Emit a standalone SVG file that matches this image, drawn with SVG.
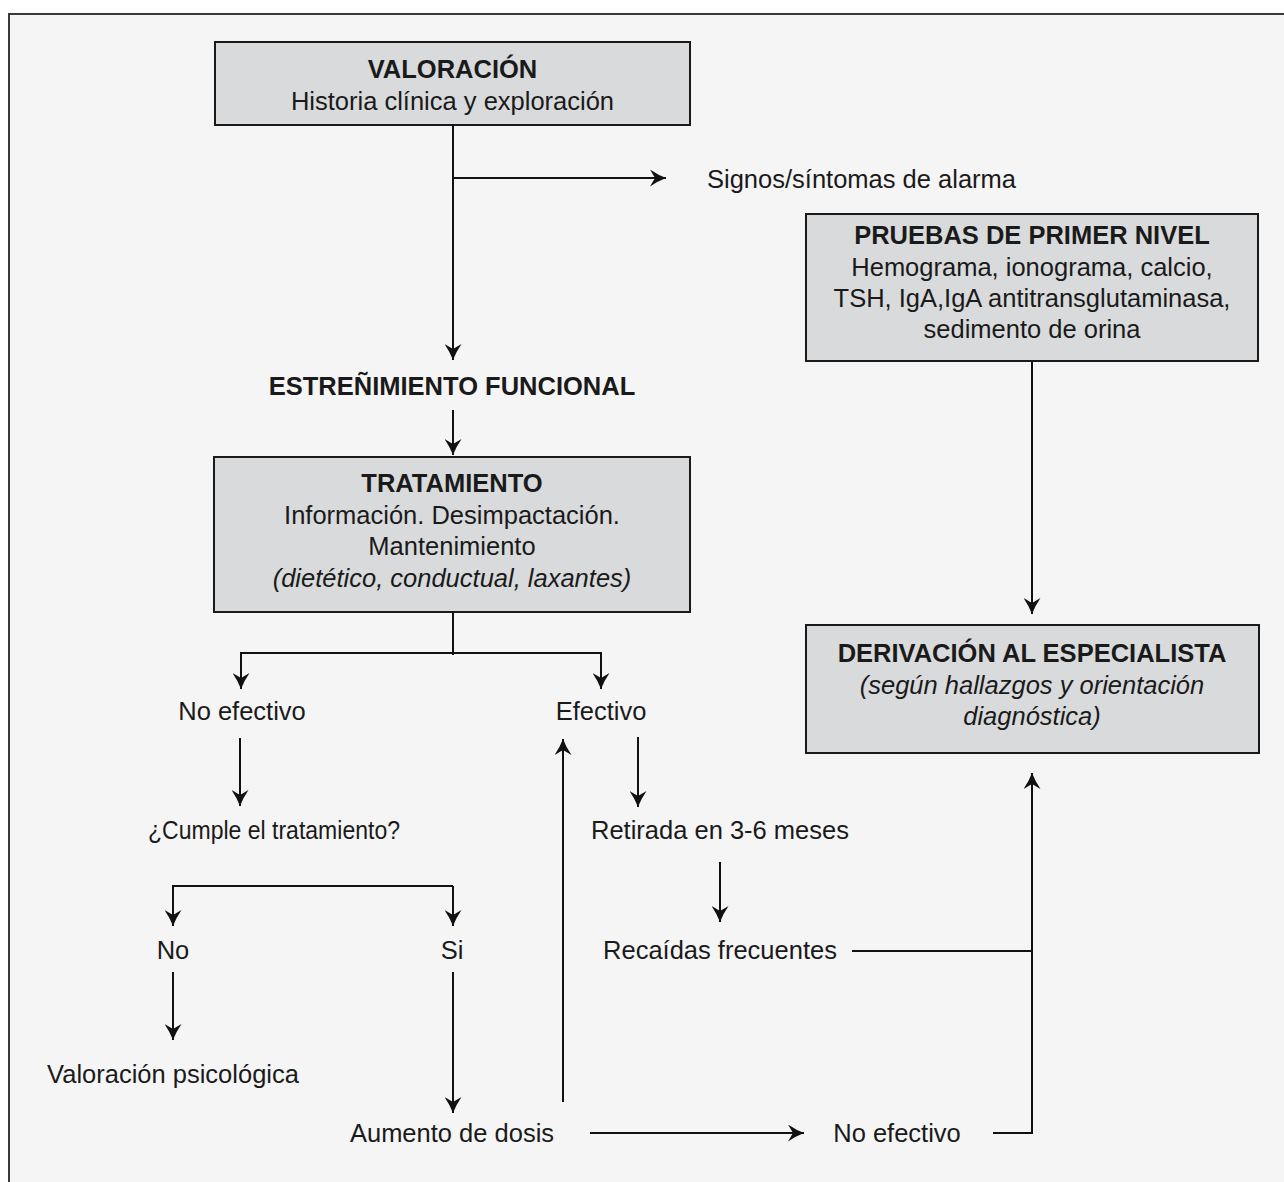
<svg xmlns="http://www.w3.org/2000/svg" width="1284" height="1182" viewBox="0 0 1284 1182">
<defs>
<marker id="ah" viewBox="0 0 16 17" refX="16" refY="8.5" markerWidth="16" markerHeight="17" markerUnits="userSpaceOnUse" orient="auto">
<path d="M0,0 Q8,5.5 16,8.5 Q8,11.5 0,17 L5,8.5 Z" fill="#111"/>
</marker>
<style>
text{font-family:"Liberation Sans",Arial,sans-serif;font-size:25.5px;fill:#1a1a1a}
.c{text-anchor:middle}
.b{font-weight:bold}
.i{font-style:italic}
.box{fill:#d9dadc;stroke:#1a1a1a;stroke-width:2}
.ln{fill:none;stroke:#111;stroke-width:2}
.ar{fill:none;stroke:#111;stroke-width:2;marker-end:url(#ah)}
</style>
</defs>
<rect x="0" y="0" width="1284" height="1182" fill="#ffffff"/>
<rect x="9" y="14" width="1300" height="1200" fill="#f5f5f5" stroke="#3a3a3a" stroke-width="2"/>

<g id="valoracion">
<rect class="box" x="215" y="42" width="475" height="83"/>
<text class="c b" x="452.5" y="78">VALORACIÓN</text>
<text class="c" x="452.5" y="110">Historia clínica y exploración</text>
</g>
<g id="signos"><text x="707" y="188">Signos/síntomas de alarma</text></g>
<g id="pruebas">
<rect class="box" x="806" y="214" width="452" height="147"/>
<text class="c b" x="1032" y="244">PRUEBAS DE PRIMER NIVEL</text>
<text class="c" x="1032" y="276">Hemograma, ionograma, calcio,</text>
<text class="c" x="1032" y="307">TSH, IgA,IgA antitransglutaminasa,</text>
<text class="c" x="1032" y="338">sedimento de orina</text>
</g>
<g id="estrenimiento"><text class="c b" x="452" y="395">ESTREÑIMIENTO FUNCIONAL</text></g>
<g id="tratamiento">
<rect class="box" x="214" y="457" width="476" height="155"/>
<text class="c b" x="452" y="492">TRATAMIENTO</text>
<text class="c" x="452" y="524">Información. Desimpactación.</text>
<text class="c" x="452" y="555">Mantenimiento</text>
<text class="c i" x="452" y="587">(dietético, conductual, laxantes)</text>
</g>
<g id="derivacion">
<rect class="box" x="806" y="625" width="453" height="128"/>
<text class="c b" x="1032" y="662">DERIVACIÓN AL ESPECIALISTA</text>
<text class="c i" x="1032" y="694">(según hallazgos y orientación</text>
<text class="c i" x="1032" y="725">diagnóstica)</text>
</g>
<g id="no-efectivo-1"><text class="c" x="242" y="720">No efectivo</text></g>
<g id="efectivo"><text class="c" x="601" y="720">Efectivo</text></g>
<g id="cumple"><text x="148" y="839" textLength="252" lengthAdjust="spacingAndGlyphs">¿Cumple el tratamiento?</text></g>
<g id="retirada"><text class="c" x="720" y="839">Retirada en 3-6 meses</text></g>
<g id="no"><text class="c" x="173" y="959">No</text></g>
<g id="si"><text class="c" x="452" y="959">Si</text></g>
<g id="recaidas"><text class="c" x="720" y="959">Recaídas frecuentes</text></g>
<g id="psicologica"><text class="c" x="173" y="1083">Valoración psicológica</text></g>
<g id="aumento"><text class="c" x="452" y="1142">Aumento de dosis</text></g>
<g id="no-efectivo-2"><text class="c" x="897" y="1142">No efectivo</text></g>

<g id="connectors">
<path class="ar" d="M453,125 V360"/>
<path class="ar" d="M453,178 H666"/>
<path class="ar" d="M1032,361 V614"/>
<path class="ar" d="M453,410 V455"/>
<path class="ln" d="M453,612 V655"/>
<path class="ar" d="M453,653 H241 V689"/>
<path class="ar" d="M453,653 H601 V689"/>
<path class="ar" d="M240,738 V806"/>
<path class="ar" d="M638,737 V807"/>
<path class="ar" d="M563,1102 V739"/>
<path class="ar" d="M453,886 H173 V926"/>
<path class="ar" d="M453,886 V926"/>
<path class="ar" d="M720,862 V922"/>
<path class="ar" d="M173,972 V1040"/>
<path class="ar" d="M453,972 V1113"/>
<path class="ar" d="M590,1133 H804"/>
<path class="ln" d="M852,951 H1032"/>
<path class="ar" d="M993,1133 H1032 V773"/>
</g>
</svg>
